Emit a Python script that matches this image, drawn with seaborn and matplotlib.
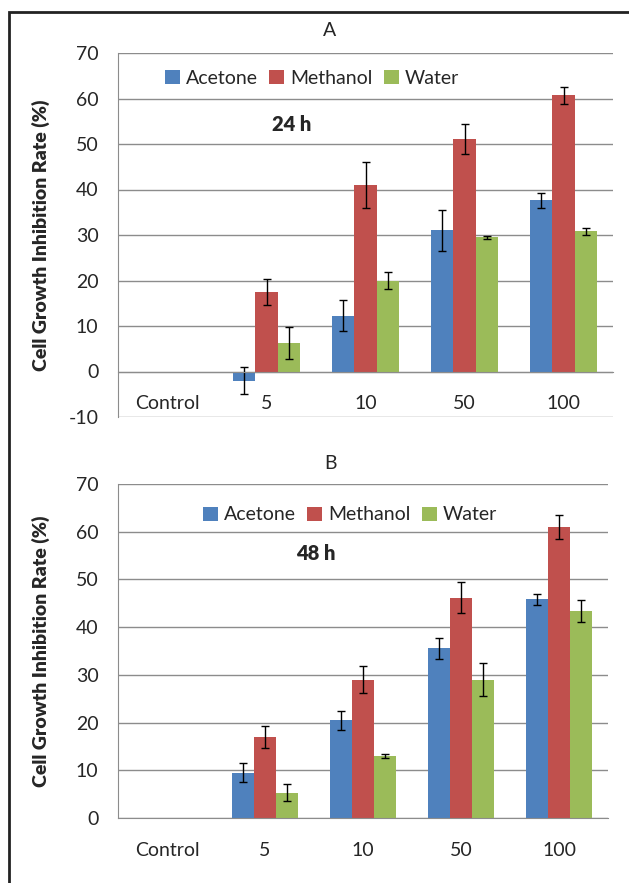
import numpy as np
import pandas as pd
import matplotlib.pyplot as plt
import seaborn as sns
from matplotlib.patches import Rectangle

concentrations = ['Control', '5', '10', '50', '100']
solvents = ['Acetone', 'Methanol', 'Water']
colors = ['#4F81BD', '#C0504D', '#9BBB59']

# 24 h (panel A) - control has no bar
acetone_24 = [0, -2.0, 12.3, 31.0, 37.6]
methanol_24 = [0, 17.5, 41.0, 51.0, 60.7]
water_24 = [0, 6.3, 20.0, 29.5, 30.8]
acetone_24_err = [0, 3.0, 3.5, 4.6, 1.6]
methanol_24_err = [0, 2.8, 5.1, 3.3, 1.8]
water_24_err = [0, 3.5, 1.8, 0.3, 0.8]

# 48 h (panel B)
acetone_48 = [0, 9.5, 20.5, 35.6, 45.8]
methanol_48 = [0, 17.0, 29.0, 46.2, 61.0]
water_48 = [0, 5.3, 13.0, 29.0, 43.4]
acetone_48_err = [0, 2.0, 2.0, 2.2, 1.1]
methanol_48_err = [0, 2.3, 2.8, 3.2, 2.5]
water_48_err = [0, 1.8, 0.5, 3.5, 2.3]

yticks_24 = list(range(-10, 71, 10))
yticks_48 = list(range(0, 71, 10))


def make_frame(series):
    rows = []
    for solvent, vals in zip(solvents, series):
        for conc, v in zip(concentrations, vals):
            rows.append({'conc': conc, 'solvent': solvent, 'rate': v})
    return pd.DataFrame(rows)


def draw_panel(ax, series, errors, ylim, yticks):
    df = make_frame(series)
    sns.barplot(data=df, x='conc', y='rate', hue='solvent', order=concentrations,
                hue_order=solvents, palette=colors, width=0.67, saturation=1,
                errorbar=None, linewidth=0, ax=ax)
    # error bars on top of each bar
    for container, vals, errs in zip(ax.containers, series, errors):
        for bar, v, e in zip(container, vals, errs):
            if e > 0:
                ax.errorbar(bar.get_x() + bar.get_width() / 2, v, yerr=e,
                            color='black', lw=1, capsize=3, capthick=1)
    ax.set_ylim(*ylim)
    ax.set_yticks(yticks)
    ax.set_xlim(-0.5, 4.5)
    ax.yaxis.grid(True, color='#8c8c8c', lw=1)
    ax.set_axisbelow(True)
    for s in ['top', 'right']:
        ax.spines[s].set_visible(False)
    ax.spines['left'].set_color('#8c8c8c')
    ax.spines['bottom'].set_color('#8c8c8c')
    ax.spines['bottom'].set_position(('data', 0))
    ax.set_xticks(range(5))
    ax.set_xticklabels(concentrations)
    ax.set_xticks([0.5, 1.5, 2.5, 3.5, 4.5], minor=True)
    ax.tick_params(axis='x', which='major', length=0, pad=17, labelsize=14)
    ax.tick_params(axis='x', which='minor', length=5, color='#8c8c8c', direction='out')
    ax.tick_params(axis='y', length=0, pad=14, labelsize=14)
    ax.set_xlabel('')
    ax.set_ylabel('Cell Growth Inhibition Rate (%)', fontweight='heavy', fontsize=14)


sns.set_style("white")
plt.rcParams['font.family'] = ['Lato', 'DejaVu Sans']
plt.rcParams['axes.unicode_minus'] = False

fig = plt.figure(figsize=(6.29, 8.83), dpi=100)
ax1 = fig.add_axes([118 / 629, 1 - 417 / 883, (613 - 118) / 629, (417 - 53) / 883])
ax2 = fig.add_axes([118 / 629, 1 - 818 / 883, (608 - 118) / 629, (818 - 484) / 883])

draw_panel(ax1, [acetone_24, methanol_24, water_24],
           [acetone_24_err, methanol_24_err, water_24_err], (-10, 70), yticks_24)
draw_panel(ax2, [acetone_48, methanol_48, water_48],
           [acetone_48_err, methanol_48_err, water_48_err], (0, 70), yticks_48)

ax1.yaxis.set_label_coords(-0.137, 0.5)
ax2.yaxis.set_label_coords(-0.139, 0.5)

for ax, cx, cy in [(ax1, 312, 78), (ax2, 350, 515)]:
    h, l = ax.get_legend_handles_labels()
    ax.legend(h, l, loc='center', bbox_to_anchor=(cx / 629, 1 - cy / 883),
              bbox_transform=fig.transFigure, ncol=3, frameon=False, fontsize=14,
              handlelength=0.75, handleheight=0.75, handletextpad=0.3, columnspacing=0.6)

fig.text(330 / 629, 1 - 30 / 883, 'A', ha='center', va='center', fontsize=14)
fig.text(330 / 629, 1 - 463 / 883, 'B', ha='center', va='center', fontsize=14)
fig.text(292 / 629, 1 - 124 / 883, '24 h', ha='center', va='center', fontsize=14.5, fontweight='heavy')
fig.text(316 / 629, 1 - 553 / 883, '48 h', ha='center', va='center', fontsize=14.5, fontweight='heavy')

# outer frame
fig.patches.append(Rectangle((9 / 629, -0.05), 1.1, 1 - 12 / 883 + 0.05,
                             transform=fig.transFigure, fill=False,
                             edgecolor='#222222', lw=2))

fig.savefig('out.png', dpi=100)
